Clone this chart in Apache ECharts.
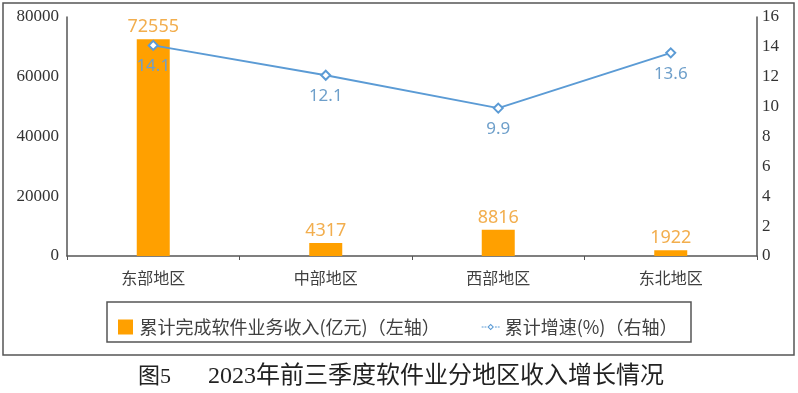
<!DOCTYPE html>
<html><head><meta charset="utf-8">
<script src="https://cdn.jsdelivr.net/npm/echarts@6/dist/echarts.min.js"></script>
<style>html,body{margin:0;padding:0;background:#fff}#c{width:798px;height:393px}</style>
</head><body><div id="c"></div>
<script>
const categories = ['东部地区', '中部地区', '西部地区', '东北地区'];
const revenue = [72555, 4317, 8816, 1922];
const growth = [14.1, 12.1, 9.9, 13.6];
const leftTicks = {min: 0, max: 80000, interval: 20000};
const rightTicks = {min: 0, max: 16, interval: 2};
const seriesNames = ['累计完成软件业务收入(亿元)（左轴）', '累计增速(%)（右轴）'];
const captionPrefix = '图5';
const captionText = '2023年前三季度软件业分地区收入增长情况';

const chart = echarts.init(document.getElementById('c'));
const cjk = '"Noto Sans CJK SC", "Noto Sans", sans-serif';
const serif = '"Liberation Serif", "DejaVu Serif", "Noto Sans CJK SC", serif';
const squareIcon = 'path://M0,0H10V10H0Z';
const lineIcon = 'path://M0,2.9H2V4.1H0Z M3,2.9H5V4.1H3Z M14,2.9H16V4.1H14Z M17,2.9H19V4.1H17Z ' +
  'M9.5,0L13,3.5L9.5,7L6,3.5Z M9.5,1.6L7.6,3.5L9.5,5.4L11.4,3.5Z';
chart.setOption({
  animation: false,
  backgroundColor: '#fff',
  grid: {left: 67, right: 41, top: 17, bottom: 137},
  legend: {
    left: 113, top: 313, itemGap: 42, itemWidth: 18, itemHeight: 15,
    textStyle: {fontFamily: cjk, fontSize: 18, color: '#404040'},
    data: [
      {name: seriesNames[0], icon: squareIcon},
      {name: seriesNames[1], icon: lineIcon}
    ]
  },
  xAxis: {
    type: 'category', data: categories,
    axisLine: {lineStyle: {color: '#555', width: 1.5}},
    axisTick: {show: true, length: 4, lineStyle: {color: '#555'}},
    axisLabel: {fontFamily: cjk, fontSize: 16, color: '#404040', margin: 14}
  },
  yAxis: [
    {type: 'value', min: leftTicks.min, max: leftTicks.max, interval: leftTicks.interval,
     axisLine: {show: true, lineStyle: {color: '#555', width: 1.5}},
     axisTick: {show: false}, splitLine: {show: false},
     axisLabel: {fontFamily: serif, fontSize: 17, color: '#333', margin: 8, formatter: v => String(v)}},
    {type: 'value', min: rightTicks.min, max: rightTicks.max, interval: rightTicks.interval,
     axisLine: {show: true, lineStyle: {color: '#555', width: 1.5}},
     axisTick: {show: false}, splitLine: {show: false},
     axisLabel: {fontFamily: serif, fontSize: 17, color: '#333', margin: 5, formatter: v => String(v)}}
  ],
  series: [
    {name: seriesNames[0], type: 'bar', data: revenue, barWidth: 33, yAxisIndex: 0,
     itemStyle: {color: '#FFA000'},
     label: {show: true, position: 'top', distance: 3, fontFamily: '"Noto Sans", sans-serif', fontSize: 18, color: '#F2AE4E'}},
    {name: seriesNames[1], type: 'line', data: growth, yAxisIndex: 1,
     symbol: 'emptyDiamond', symbolSize: 9,
     lineStyle: {color: '#5B9BD5', width: 2},
     itemStyle: {color: '#5B9BD5', borderWidth: 2},
     label: {show: true, position: 'bottom', distance: 7, fontFamily: '"Noto Sans", sans-serif', fontSize: 17, color: '#6E9FCA'}}
  ],
  graphic: [
    {type: 'rect', silent: true, z: -1, shape: {x: 3, y: 3, width: 791, height: 352},
     style: {fill: null, stroke: '#555', lineWidth: 1.5}},
    {type: 'rect', silent: true, z: -1, shape: {x: 107, y: 302, width: 584, height: 40},
     style: {fill: null, stroke: '#555', lineWidth: 1.5}},
    {type: 'text', left: 138, top: 366,
     style: {text: captionPrefix, font: '22px ' + serif, fill: '#222'}},
    {type: 'text', left: 208, top: 365,
     style: {text: captionText, font: '24px ' + serif, fill: '#222'}}
  ]
});
</script></body></html>
